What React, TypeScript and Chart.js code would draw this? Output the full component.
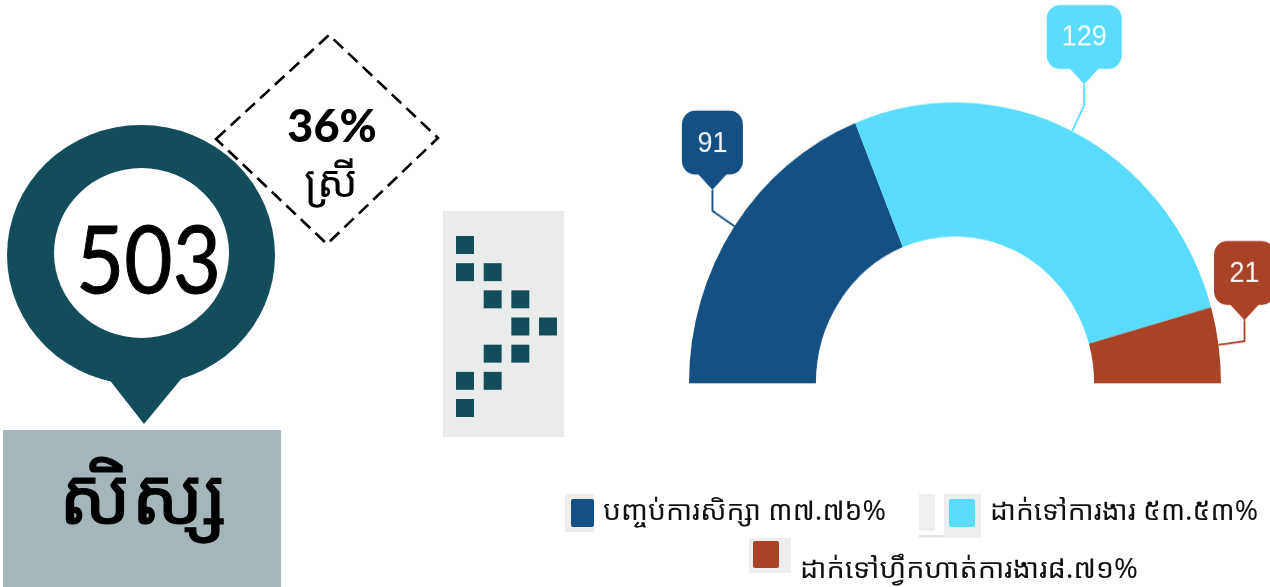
import React, { useEffect, useRef } from "react";
import { Chart, registerables } from "chart.js";

Chart.register(...registerables);

// ---- data ----
const categories = ["បញ្ចប់ការសិក្សា", "ដាក់ទៅការងារ", "ដាក់ទៅហ្វឹកហាត់ការងារ"];
const values = [91, 129, 21];
const percentLabels = ["៣៧.៧៦%", "៥៣.៥៣%", "៨.៧១%"];
const sliceColors = ["#155084", "#59dcff", "#a94325"];
const totalStudents = "503";
const femaleShare = "36%";
const femaleLabel = "ស្រី";
const studentLabel = "សិស្ស";
const gridColumns = [0, 0, 1, 1, 2, 2, 3, 1, 2, 0, 1, 0];
const gridRows = [0, 1, 1, 2, 2, 3, 3, 4, 4, 5, 5, 6];

// ---- look ----
const DARK = "#134d5a";
const KHMER = '"Noto Sans Khmer","Khmer OS","Khmer OS System","Noto Serif Khmer","Noto Sans","DejaVu Sans",sans-serif';
const STRETCH = 587 / 556;
const calloutOffsets = [
  { dx: -22, dy: -14.5 },
  { dx: 12, dy: -24.5 },
  { dx: 26, dy: -3.5 },
];

const calloutPlugin = {
  id: "callouts",
  afterDatasetsDraw(chart: any) {
    const ctx = chart.ctx;
    const arcs = chart.getDatasetMeta(0).data;
    arcs.forEach((arc: any, i: number) => {
      const mid = (arc.startAngle + arc.endAngle) / 2;
      const ax = arc.x + Math.cos(mid) * arc.outerRadius;
      const ay = arc.y + Math.sin(mid) * arc.outerRadius;
      const ex = ax + calloutOffsets[i].dx;
      const ey = ay + calloutOffsets[i].dy;
      const ty = ey - 20;
      const color = sliceColors[i];
      ctx.save();
      ctx.strokeStyle = color;
      ctx.fillStyle = color;
      ctx.lineWidth = 1.8;
      ctx.beginPath();
      ctx.moveTo(ax, ay);
      ctx.lineTo(ex, ey);
      ctx.lineTo(ex, ty);
      ctx.stroke();
      ctx.font = '27px "Liberation Sans", Arial, sans-serif';
      const label = String(values[i]);
      const w = i === 1 ? 75 : 61;
      const h = 60.5;
      const bottom = ty - 14.5;
      const top = bottom - h;
      const left = ex - w / 2;
      ctx.beginPath();
      ctx.roundRect(left, top, w, h, 13);
      ctx.fill();
      ctx.beginPath();
      ctx.moveTo(ex - 15, bottom - 1);
      ctx.lineTo(ex + 15, bottom - 1);
      ctx.lineTo(ex, ty);
      ctx.closePath();
      ctx.fill();
      ctx.fillStyle = "rgba(255,255,255,0.95)";
      ctx.textAlign = "center";
      ctx.textBaseline = "middle";
      ctx.fillText(label, ex, top + h / 2 + 1);
      ctx.restore();
    });
  },
};

const legendRows = [
  { outer: [565, 494, 29, 38], inner: [571, 499, 23, 28], textX: 603, textY: 520, textW: 283 },
  { outer: [944, 494, 37, 43], inner: [949, 499, 26, 28], textX: 990, textY: 520, textW: 268 },
  { outer: [749, 538, 42, 35], inner: [753, 541, 26, 27], textX: 800, textY: 578, textW: 338 },
];

export default function App() {
  const arcRef = useRef<HTMLCanvasElement>(null);
  const gridRef = useRef<HTMLCanvasElement>(null);

  useEffect(() => {
    const doughnut = new Chart(arcRef.current!, {
      type: "doughnut",
      data: {
        labels: categories,
        datasets: [{ data: values, backgroundColor: sliceColors, borderWidth: 0 }],
      },
      options: {
        animation: false,
        responsive: false,
        rotation: -90,
        circumference: 180,
        cutout: "52.3%",
        layout: { padding: { left: 689, right: 49, top: 97, bottom: 193 } },
        plugins: { legend: { display: false }, tooltip: { enabled: false } },
      },
      plugins: [calloutPlugin],
    } as any);

    const grid = new Chart(gridRef.current!, {
      type: "scatter",
      data: {
        datasets: [
          {
            data: gridColumns.map((x, i) => ({ x, y: gridRows[i] })),
            pointStyle: "rect",
            pointRadius: 12.7,
            backgroundColor: DARK,
            borderWidth: 0,
            clip: false,
          },
        ],
      },
      options: {
        animation: false,
        responsive: false,
        layout: { padding: { left: 22, right: 16, top: 34, bottom: 29 } },
        scales: {
          x: { display: false, min: 0, max: 3 },
          y: { display: false, min: 0, max: 6, reverse: true },
        },
        plugins: { legend: { display: false }, tooltip: { enabled: false } },
      },
    } as any);

    return () => {
      doughnut.destroy();
      grid.destroy();
    };
  }, []);

  return (
    <div style={{ position: "absolute", left: 0, top: 0, width: 1270, height: 587, overflow: "hidden", background: "#fff" }}>
      <canvas
        ref={arcRef}
        width={1270}
        height={556}
        style={{ position: "absolute", left: 0, top: 0, width: 1270, height: 556, transform: `scaleY(${STRETCH})`, transformOrigin: "0 0" }}
      />
      <canvas
        ref={gridRef}
        width={121}
        height={226}
        style={{ position: "absolute", left: 443, top: 211, width: 121, height: 226, background: "#eaecec" }}
      />
      <svg width={1270} height={587} style={{ position: "absolute", left: 0, top: 0, pointerEvents: "none" }}>
        <polygon points="216,139 329,35 438,138 327,244" fill="none" stroke="#000" strokeWidth={2.6} strokeDasharray="13 7" />
        <ellipse cx={141} cy={255} rx={134} ry={130} fill={DARK} />
        <polygon points="108,378 182,378 144,424" fill={DARK} />
        <ellipse cx={141.5} cy={253} rx={87.5} ry={85} fill="#fff" />
        <rect x={3} y={430} width={278} height={157} fill="#a5b6ba" />
        <text x={76} y={293} textLength={145} lengthAdjust="spacingAndGlyphs" fontFamily="Lato" fontSize={93} fill="#000" stroke="#000" strokeWidth={1}>{totalStudents}</text>
        <text x={332} y={142} textAnchor="middle" fontFamily="Lato" fontWeight={900} fontSize={45} fill="#000">{femaleShare}</text>
        <text x={331} y={197} textAnchor="middle" fontFamily={KHMER} fontSize={44} fill="#000">{femaleLabel}</text>
        <text x={143} y={524} textAnchor="middle" fontFamily={KHMER} fontSize={78} fill="#000" stroke="#000" strokeWidth={1.2}>{studentLabel}</text>
        <rect x={919} y={494} width={16} height={37} fill="#efefef" />
        <rect x={919} y={535} width={62} height={2.5} fill="#e4e4e4" />
        <rect x={788} y={545} width={3} height={18} fill="#8a8a8a" />
        {legendRows.map((r, i) => (
          <g key={i}>
            <rect x={r.outer[0]} y={r.outer[1]} width={r.outer[2]} height={r.outer[3]} fill="#eeeeee" />
            <rect x={r.inner[0]} y={r.inner[1]} width={r.inner[2]} height={r.inner[3]} rx={2} fill={sliceColors[i]} />
            <text x={r.textX} y={r.textY} textLength={r.textW} lengthAdjust="spacingAndGlyphs" fontFamily={KHMER} fontSize={27} fill="#111">
              {categories[i] + (i === 2 ? "" : " ") + percentLabels[i]}
            </text>
          </g>
        ))}
      </svg>
    </div>
  );
}
